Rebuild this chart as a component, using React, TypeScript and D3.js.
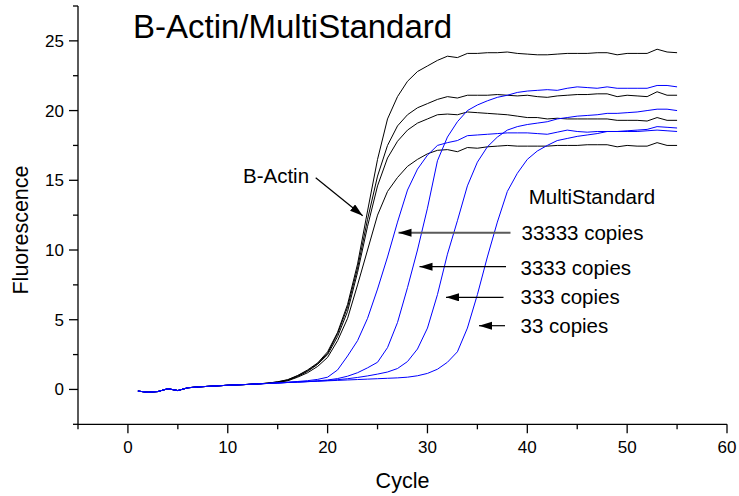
import React from "react";
import * as d3 from "d3";

const cycles = [1,2,3,4,5,6,7,8,9,10,11,12,13,14,15,16,17,18,19,20,21,22,23,24,25,26,27,28,29,30,31,32,33,34,35,36,37,38,39,40,41,42,43,44,45,46,47,48,49,50,51,52,53,54,55];

const bActin1 = [-0.12,-0.2,-0.15,0.05,-0.08,0.12,0.18,0.22,0.26,0.3,0.33,0.36,0.4,0.45,0.55,0.7,1.0,1.4,1.9,2.7,4.1,6.1,9.0,12.8,16.5,19.4,21.0,22.1,22.8,23.2,23.6,23.9,23.8,24.1,24.1,24.15,24.15,24.2,24.1,24.05,24.0,24.0,24.05,24.1,24.1,24.1,24.15,24.15,24.0,24.1,24.1,24.1,24.4,24.2,24.15];
const bActin2 = [-0.12,-0.2,-0.15,0.05,-0.08,0.12,0.18,0.22,0.26,0.3,0.33,0.36,0.4,0.45,0.54,0.68,0.98,1.35,1.85,2.6,4.0,5.9,8.7,12.2,15.3,17.5,18.9,19.7,20.2,20.5,20.8,21.0,20.9,21.1,21.1,21.1,21.15,21.1,21.05,21.1,21.0,20.95,21.05,21.1,21.15,21.15,21.2,21.2,21.0,21.1,21.05,21.0,21.35,21.1,21.1];
const bActin3 = [-0.12,-0.2,-0.15,0.05,-0.08,0.12,0.18,0.22,0.26,0.3,0.33,0.36,0.4,0.44,0.52,0.65,0.93,1.3,1.8,2.5,3.8,5.6,8.4,11.7,14.6,16.6,17.8,18.6,19.1,19.4,19.7,19.75,19.7,19.9,19.85,19.8,19.75,19.7,19.6,19.5,19.5,19.4,19.45,19.4,19.4,19.4,19.4,19.4,19.3,19.3,19.3,19.25,19.5,19.3,19.3];
const bActin4 = [-0.12,-0.2,-0.15,0.05,-0.08,0.12,0.18,0.22,0.26,0.3,0.33,0.36,0.4,0.44,0.5,0.62,0.88,1.2,1.65,2.3,3.5,5.1,7.5,10.0,12.5,14.2,15.2,16.0,16.5,16.9,17.15,17.2,17.05,17.35,17.3,17.4,17.45,17.5,17.45,17.45,17.45,17.45,17.5,17.5,17.5,17.55,17.55,17.55,17.4,17.5,17.45,17.45,17.7,17.5,17.5];

const std33333 = [-0.12,-0.2,-0.15,0.05,-0.08,0.12,0.18,0.22,0.26,0.3,0.33,0.36,0.4,0.43,0.47,0.52,0.57,0.63,0.72,0.88,1.4,2.4,3.5,5.1,7.2,9.5,12.0,14.3,15.8,16.8,17.5,17.7,17.85,18.2,18.25,18.3,18.35,18.4,18.4,18.4,18.35,18.3,18.45,18.6,18.5,18.45,18.5,18.5,18.5,18.5,18.5,18.55,18.6,18.55,18.5];
const std3333 = [-0.12,-0.2,-0.15,0.05,-0.08,0.12,0.18,0.22,0.26,0.3,0.33,0.36,0.4,0.43,0.46,0.5,0.53,0.57,0.62,0.68,0.78,0.95,1.2,1.55,1.95,3.0,4.8,7.3,10.0,13.0,16.4,18.1,19.2,20.0,20.4,20.7,20.95,21.1,21.3,21.4,21.45,21.5,21.45,21.6,21.7,21.65,21.6,21.7,21.6,21.6,21.6,21.6,21.8,21.8,21.7];
const std333 = [-0.12,-0.2,-0.15,0.05,-0.08,0.12,0.18,0.22,0.26,0.3,0.33,0.36,0.4,0.43,0.46,0.5,0.53,0.56,0.6,0.64,0.7,0.77,0.86,0.97,1.1,1.25,1.5,2.0,2.9,4.4,6.8,9.7,12.1,14.6,16.3,17.4,18.1,18.6,18.85,19.0,19.1,19.2,19.4,19.5,19.6,19.65,19.7,19.8,19.8,19.85,19.9,20.0,20.1,20.1,20.0];
const std33 = [-0.12,-0.2,-0.15,0.05,-0.08,0.12,0.18,0.22,0.26,0.3,0.33,0.36,0.4,0.43,0.46,0.5,0.53,0.56,0.59,0.62,0.65,0.68,0.71,0.74,0.77,0.8,0.83,0.88,0.98,1.15,1.45,1.95,2.7,4.4,6.8,9.5,12.0,14.2,15.5,16.5,17.1,17.5,17.85,18.0,18.15,18.25,18.35,18.5,18.5,18.55,18.6,18.65,18.85,18.8,18.75];

const blackSeries = [bActin1, bActin2, bActin3, bActin4];
const blueSeries = [std33333, std3333, std333, std33];

const xMajor = [0, 10, 20, 30, 40, 50, 60];
const xMinor = [-5, 5, 15, 25, 35, 45, 55];
const yMajor = [0, 5, 10, 15, 20, 25];
const yMinor = [-2.5, 2.5, 7.5, 12.5, 17.5, 22.5, 27.5];

const copyLabels = ["33333 copies", "3333 copies", "333 copies", "33 copies"];

const FONT = "'Liberation Sans', Arial, sans-serif";

export default function App() {
  const W = 739, H = 496;
  const x = d3.scaleLinear().domain([-5, 60]).range([78, 727]);
  const y = d3.scaleLinear().domain([-2.5, 27.5]).range([424.3, 6]);
  const line = d3.line<number>().x((_, i) => x(cycles[i])).y((d) => y(d));

  const x0 = x(-5), y0 = y(-2.5);

  const labelPos = [
    { tx: 521.5, ty: 240, x1: 510.5, x2: 398.5, ly: 232.7, color: "#5a5a5a", w: 2 },
    { tx: 520.5, ty: 275, x1: 506, x2: 419.5, ly: 266.7, color: "#000", w: 1.2 },
    { tx: 520.5, ty: 304, x1: 503.5, x2: 446, ly: 297.3, color: "#000", w: 1.2 },
    { tx: 520.5, ty: 333, x1: 505, x2: 479, ly: 325.7, color: "#000", w: 1.2 },
  ];

  return (
    <svg width={W} height={H} style={{ position: "absolute", left: 0, top: 0, background: "#fff" }} fontFamily={FONT}>
      <defs>
        <marker id="ah" markerUnits="userSpaceOnUse" markerWidth="14" markerHeight="10" refX="13" refY="4" orient="auto">
          <path d="M0,0 L13,4 L0,8 Z" fill="#000" />
        </marker>
        <marker id="ahg" markerUnits="userSpaceOnUse" markerWidth="14" markerHeight="10" refX="13" refY="4" orient="auto">
          <path d="M0,0 L13,4 L0,8 Z" fill="#000" />
        </marker>
      </defs>
      <rect x={0} y={0} width={W} height={H} fill="#fff" />

      {/* data */}
      {blackSeries.map((s, i) => (
        <path key={"b" + i} d={line(s) || ""} fill="none" stroke="#000" strokeWidth={1} />
      ))}
      {blueSeries.map((s, i) => (
        <path key={"u" + i} d={line(s) || ""} fill="none" stroke="#0000ff" strokeWidth={1} />
      ))}

      {/* axes */}
      <line x1={x0} y1={y(27.5)} x2={x0} y2={y0} stroke="#000" strokeWidth={1.3} />
      <line x1={x0} y1={y0} x2={x(60)} y2={y0} stroke="#000" strokeWidth={1.3} />
      {yMajor.map((v) => (
        <g key={"ym" + v}>
          <line x1={x0 - 9} x2={x0} y1={y(v)} y2={y(v)} stroke="#000" strokeWidth={1.3} />
          <text x={x0 - 14} y={y(v) + 6} fontSize={17} textAnchor="end">{v}</text>
        </g>
      ))}
      {yMinor.map((v) => (
        <line key={"yn" + v} x1={x0 - 5} x2={x0} y1={y(v)} y2={y(v)} stroke="#000" strokeWidth={1.3} />
      ))}
      {xMajor.map((v) => (
        <g key={"xm" + v}>
          <line x1={x(v)} x2={x(v)} y1={y0} y2={y0 + 9} stroke="#000" strokeWidth={1.3} />
          <text x={x(v)} y={452.5} fontSize={17} textAnchor="middle">{v}</text>
        </g>
      ))}
      {xMinor.map((v) => (
        <line key={"xn" + v} x1={x(v)} x2={x(v)} y1={y0} y2={y0 + 5} stroke="#000" strokeWidth={1.3} />
      ))}

      <text x={402.5} y={488} fontSize={21.5} textAnchor="middle">Cycle</text>
      <text transform="translate(28,230) rotate(-90)" fontSize={21.5} textAnchor="middle">Fluorescence</text>

      <text x={133} y={38} fontSize={33}>B-Actin/MultiStandard</text>

      {/* annotations */}
      <text x={243} y={183} fontSize={20.5}>B-Actin</text>
      <line x1={315.7} y1={177.7} x2={362.7} y2={215.7} stroke="#000" strokeWidth={1.2} markerEnd="url(#ah)" />
      <text x={528.7} y={204} fontSize={20.5}>MultiStandard</text>
      {copyLabels.map((t, i) => {
        const p = labelPos[i];
        return (
          <g key={t}>
            <text x={p.tx} y={p.ty} fontSize={20.5}>{t}</text>
            <line x1={p.x1} y1={p.ly} x2={p.x2} y2={p.ly} stroke={p.color} strokeWidth={p.w} markerEnd={i === 0 ? "url(#ahg)" : "url(#ah)"} />
          </g>
        );
      })}
    </svg>
  );
}
